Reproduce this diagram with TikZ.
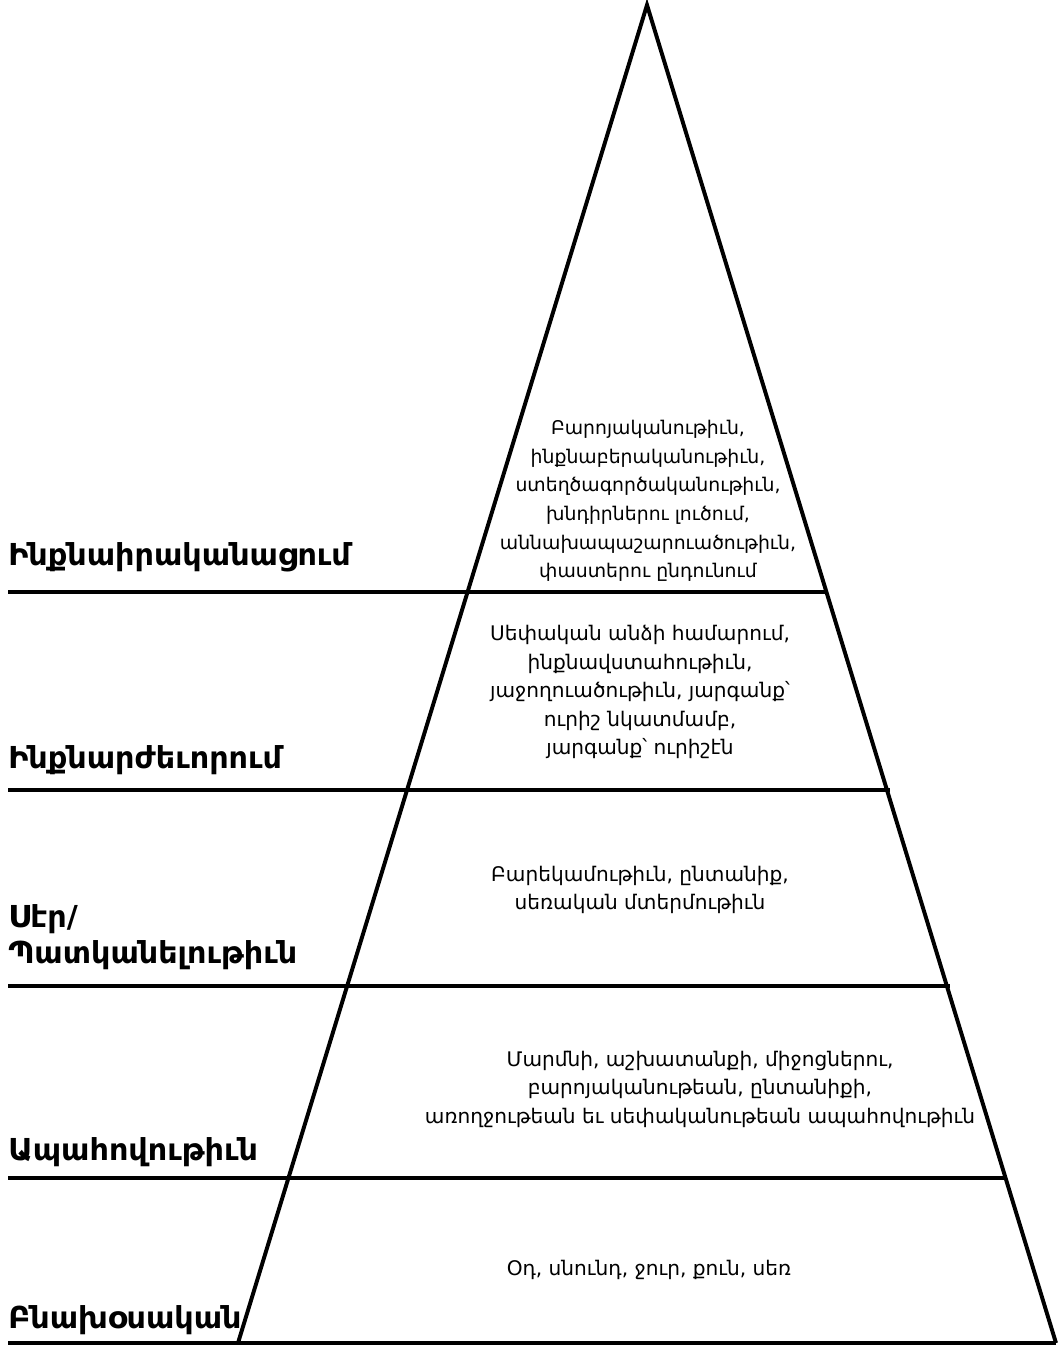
\documentclass[tikz,border=0pt]{standalone}
\usepackage{fontspec}
\setmainfont{DejaVu Sans}
\usepackage{tikz}
\usetikzlibrary{calc}

\tikzset{
  lvllabel/.style={font=\bfseries\fontsize{21.5}{25.5}\selectfont, anchor=base west, inner sep=0pt, align=left},
  needtext/.style={font=\fontsize{14.3}{20.3}\selectfont, align=center, inner sep=0pt},
  bar/.style={line width=2.8pt}
}

\begin{document}
\begin{tikzpicture}[x=0.025cm, y=-0.025cm]
\useasboundingbox (0,0) rectangle (1060,1350);
\coordinate (T) at (647,5);
\coordinate (BL) at (238,1343); \coordinate (BR) at (1056,1343);
\coordinate (AL) at (8,1343);
\draw[bar, line join=miter] (BL) -- (T) -- (BR);
\draw[bar] (AL) -- (BR);

\coordinate (A1) at (8,592);  \coordinate (B1) at (825,592);
\coordinate (A2) at (8,790);  \coordinate (B2) at (890,790);
\coordinate (A3) at (8,986);  \coordinate (B3) at (950,986);
\coordinate (A4) at (8,1178); \coordinate (B4) at (1004,1178);
\draw[bar] (A1) -- (B1);
\draw[bar] (A2) -- (B2);
\draw[bar] (A3) -- (B3);
\draw[bar] (A4) -- (B4);

\node (SELF) [lvllabel] at (8,565) {Ինքնաիրականացում};
\node (ESTEEM) [lvllabel] at (8,768) {Ինքնարժեւորում};
\node (LOVE) [lvllabel] at (8,963) {Սէր/\\Պատկանելութիւն};
\node (SAFE) [lvllabel] at (8,1160) {Ապահովութիւն};
\node (BODY) [lvllabel] at (8,1328) {Բնախօսական};

\node (NSELF) [needtext, font=\fontsize{13.4}{20.3}\selectfont] at (648,501) {Բարոյականութիւն,\\ինքնաբերականութիւն,\\ստեղծագործականութիւն,\\խնդիրներու լուծում,\\աննախապաշարուածութիւն,\\փաստերու ընդունում};
\node (NESTEEM) [needtext] at (640,692) {Սեփական անձի համարում,\\ինքնավստահութիւն,\\յաջողուածութիւն, յարգանք՝\\ուրիշ նկատմամբ,\\յարգանք՝ ուրիշէն};
\node (NLOVE) [needtext] at (640,890) {Բարեկամութիւն, ընտանիք,\\սեռական մտերմութիւն};
\node (NSAFE) [needtext] at (700,1089) {Մարմնի, աշխատանքի, միջոցներու,\\բարոյականութեան, ընտանիքի,\\առողջութեան եւ սեփականութեան ապահովութիւն};
\node (NBODY) [needtext] at (649,1270) {Օդ, սնունդ, ջուր, քուն, սեռ};
\end{tikzpicture}
\end{document}
